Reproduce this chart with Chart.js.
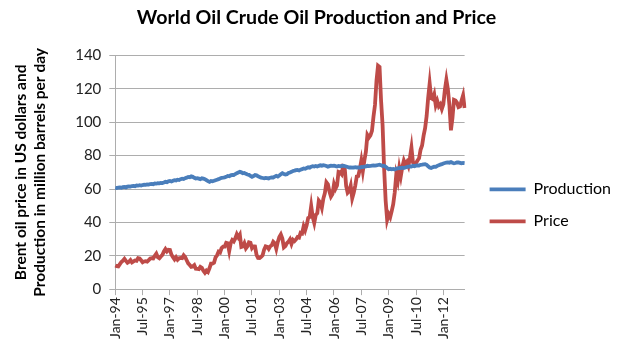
<!DOCTYPE html>
<html>
<head>
<meta charset="utf-8">
<script src="https://cdn.jsdelivr.net/npm/chart.js@4.4.0/dist/chart.umd.min.js"></script>
<style>
  html, body { margin: 0; padding: 0; background: #ffffff; }
  #wrap { width: 621px; height: 360px; }
</style>
</head>
<body>
<div id="wrap"><canvas id="c" width="621" height="360"></canvas></div>
<script>
// Month categories Jan-94 .. Mar-13
const monthNames = ['Jan','Feb','Mar','Apr','May','Jun','Jul','Aug','Sep','Oct','Nov','Dec'];
const categories = [];
for (let y = 1994; y <= 2013; y++) {
  for (let m = 0; m < 12; m++) {
    if (y === 2013 && m > 2) break;
    categories.push(monthNames[m] + '-' + String(y % 100).padStart(2, '0'));
  }
}

const xTickLabels = ['Jan-94','Jul-95','Jan-97','Jul-98','Jan-00','Jul-01','Jan-03','Jul-04','Jan-06','Jul-07','Jan-09','Jul-10','Jan-12'];
const yTicks = [0, 20, 40, 60, 80, 100, 120, 140];

// World crude oil production, million barrels per day (monthly)
const production = [
  60.8, 60.6, 60.9, 61.0, 60.8, 61.1, 61.3, 61.0, 61.4, 61.6, 61.5, 61.8,
  61.9, 61.7, 62.1, 62.0, 62.3, 62.1, 62.4, 62.6, 62.5, 62.8, 62.7, 63.0,
  63.1, 62.9, 63.3, 63.2, 63.5, 63.4, 63.7, 63.6, 63.9, 64.3, 64.1, 64.6,
  64.8, 64.5, 64.9, 65.3, 65.1, 65.6, 65.4, 65.9, 66.2, 66.0, 66.5, 66.8,
  67.2, 67.0, 67.6, 67.3, 66.7, 66.3, 66.5, 66.2, 65.9, 66.4, 66.2, 65.9,
  65.3, 64.7, 64.3, 64.8, 64.6, 64.9, 65.3, 65.6, 65.9, 66.3, 66.7, 66.8,
  67.0, 67.3, 67.8, 67.6, 68.2, 68.5, 68.4, 69.0, 69.5, 69.9, 70.3, 70.0,
  69.4, 69.6, 69.1, 68.7, 68.5, 67.9, 67.3, 67.8, 68.4, 68.2, 67.6, 67.2,
  66.8, 66.6, 66.4, 66.7, 66.5, 66.3, 66.8, 67.0, 66.9, 67.4, 67.9, 67.5,
  68.1, 68.8, 69.5, 69.0, 68.7, 68.9, 69.6, 69.9, 70.3, 70.8, 71.0, 71.3,
  71.4, 71.1, 71.6, 71.9, 72.3, 72.1, 72.6, 73.0, 72.8, 73.4, 73.7, 73.5,
  73.8, 73.5, 73.9, 74.2, 74.0, 74.3, 74.1, 73.8, 73.4, 73.7, 74.0, 73.9,
  74.0, 73.7, 73.5, 73.8, 73.6, 73.9, 74.0, 73.8, 73.5, 73.2, 72.9, 73.0,
  72.8, 72.9, 73.1, 72.9, 73.0, 72.8, 73.2, 73.1, 73.4, 73.6, 73.9, 73.7,
  73.8, 74.0, 74.1, 74.0, 74.2, 74.4, 74.6, 74.3, 73.8, 74.0, 73.4, 72.6,
  71.9, 72.1, 71.8, 72.0, 71.7, 72.2, 72.3, 72.6, 72.5, 72.8, 72.6, 72.9,
  73.2, 73.4, 73.6, 73.5, 73.9, 73.7, 74.0, 74.2, 74.1, 74.5, 74.6, 74.8,
  74.9, 74.5, 73.6, 72.9, 72.6, 73.0, 73.4, 73.3, 73.9, 74.3, 74.6, 74.9,
  75.3, 75.6, 75.8, 76.0, 75.8, 76.1, 75.7, 75.4, 75.6, 75.9, 76.0, 75.7,
  75.4, 75.6, 75.5
];

// Brent oil price, US dollars per barrel (monthly)
const price = [
  14.2, 13.8, 13.6, 15.0, 16.3, 17.1, 18.2, 16.9, 15.8, 16.4, 17.4, 16.0,
  16.6, 17.2, 17.0, 18.6, 18.4, 17.3, 16.1, 16.6, 16.8, 16.5, 17.4, 18.4,
  18.5, 18.4, 20.0, 21.3, 19.1, 18.5, 19.6, 20.5, 22.6, 24.0, 22.6, 23.6,
  23.5, 20.6, 19.1, 17.8, 19.1, 17.6, 18.5, 18.7, 18.6, 20.3, 19.2, 17.3,
  15.5, 14.5, 13.4, 13.6, 14.4, 12.2, 12.1, 12.0, 13.4, 12.8, 11.0, 9.8,
  11.1, 10.3, 12.5, 15.3, 15.3, 15.8, 19.0, 20.3, 22.5, 22.0, 24.6, 25.5,
  25.5, 27.8, 27.5, 22.8, 27.6, 29.4, 28.6, 30.4, 32.9, 31.1, 32.6, 25.3,
  25.6, 27.5, 24.5, 25.7, 28.1, 27.8, 24.6, 25.7, 25.6, 20.5, 18.7, 18.6,
  19.4, 20.3, 23.7, 25.7, 25.4, 24.1, 25.7, 26.3, 28.4, 27.5, 24.2, 28.3,
  31.2, 32.8, 30.3, 25.0, 25.8, 27.6, 28.4, 29.8, 27.1, 29.6, 28.8, 29.8,
  31.2, 30.9, 33.8, 33.4, 37.6, 35.2, 38.2, 42.7, 43.2, 49.8, 43.1, 39.6,
  44.5, 45.5, 53.1, 51.9, 48.7, 54.3, 57.6, 64.1, 62.9, 58.5, 55.4, 56.9,
  62.9, 60.2, 62.1, 70.3, 70.0, 68.9, 73.7, 73.2, 61.9, 57.8, 58.8, 62.0,
  54.5, 57.8, 62.1, 67.5, 67.8, 71.9, 77.0, 70.8, 77.1, 82.3, 92.4, 90.9,
  92.2, 94.8, 103.3, 110.4, 125.1, 133.9, 133.2, 113.0, 98.1, 72.4, 53.2, 41.6,
  44.9, 43.1, 46.8, 50.9, 57.9, 68.6, 64.9, 72.5, 67.7, 73.2, 77.0, 74.7,
  76.2, 73.8, 78.8, 84.8, 75.9, 74.8, 75.6, 77.1, 78.4, 83.5, 86.1, 92.0,
  96.5, 103.7, 114.6, 123.3, 114.5, 113.9, 116.7, 110.2, 112.8, 109.6, 110.8, 107.9,
  110.7, 119.3, 125.5, 119.8, 110.3, 95.2, 102.6, 113.4, 113.0, 111.7, 109.1, 109.5,
  113.0, 116.1, 108.5
];

const FONT = 'Lato, "Open Sans", "DejaVu Sans", sans-serif';
const GRID = '#adadad';
const LEGEND_GAP = 9;

// Adds a small gap between the plot area and the legend (legend stays a single layout box)
const legendGap = {
  id: 'legendGap',
  afterInit(chart) {
    const lg = chart.legend;
    if (!lg || lg._gapWrapped) return;
    const origFit = lg.fit;
    lg.fit = function () {
      origFit.call(this);
      if (this.options.display) this.width += LEGEND_GAP;
    };
    lg._gapWrapped = true;
  },
  afterLayout(chart) {
    const lg = chart.legend;
    if (lg && lg._gapWrapped) lg.left += LEGEND_GAP;
  }
};

new Chart(document.getElementById('c'), {
  type: 'line',
  plugins: [legendGap],
  data: {
    labels: categories,
    datasets: [
      { label: 'Production', data: production, borderColor: '#4a7ebb', backgroundColor: '#4a7ebb',
        borderWidth: 3.8, pointRadius: 0, tension: 0, fill: false },
      { label: 'Price', data: price, borderColor: '#be4b48', backgroundColor: '#be4b48',
        borderWidth: 3.8, pointRadius: 0, tension: 0, fill: false }
    ]
  },
  options: {
    responsive: false,
    animation: false,
    layout: { padding: { left: 12, right: 0, top: 0, bottom: 19 } },
    plugins: {
      title: {
        display: true,
        text: 'World Oil Crude Oil Production and Price',
        color: '#000',
        font: { family: FONT, size: 19.6, weight: 'bold', lineHeight: 1.2 },
        padding: { top: 6, bottom: 26 }
      },
      legend: {
        position: 'right',
        align: 'center',
        title: { display: true, text: ' ', font: { size: 10, lineHeight: 1 }, padding: { top: 59.6, bottom: 0 } },
        labels: {
          usePointStyle: true,
          pointStyle: 'line',
          pointStyleWidth: 36,
          boxHeight: 4,
          color: '#000',
          font: { family: FONT, size: 16 },
          padding: 16
        }
      },
      tooltip: { enabled: false }
    },
    scales: {
      x: {
        offset: false,
        grid: { drawOnChartArea: false, drawTicks: true, tickLength: 6, color: GRID },
        border: { color: GRID, width: 1 },
        ticks: {
          autoSkip: false,
          maxRotation: 90,
          minRotation: 90,
          color: '#222',
          font: { family: FONT, size: 14 },
          padding: 2,
          callback: function (v, i) {
            const lab = categories[i];
            return xTickLabels.includes(lab) ? lab : null;
          }
        }
      },
      y: {
        min: yTicks[0],
        max: yTicks[yTicks.length - 1],
        afterBuildTicks: function (axis) { axis.ticks = yTicks.map(v => ({ value: v })); },
        grid: { color: GRID, tickLength: 6, lineWidth: 1 },
        border: { color: GRID, width: 1 },
        ticks: { color: '#222', font: { family: FONT, size: 15 }, padding: 8 },
        title: {
          display: true,
          text: ['Brent oil price in US dollars and', 'Production in million barrels per day'],
          color: '#000',
          font: { family: FONT, size: 15.5, weight: 'bold', lineHeight: 1.2 },
          padding: { top: 0, bottom: 18 }
        }
      }
    }
  }
});
</script>
</body>
</html>
